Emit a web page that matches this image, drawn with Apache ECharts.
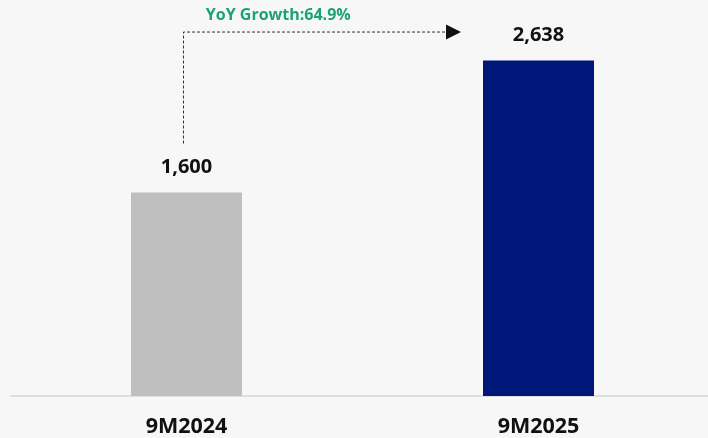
<!DOCTYPE html>
<html>
<head>
<meta charset="utf-8">
<script src="https://cdn.jsdelivr.net/npm/echarts@6/dist/echarts.min.js"></script>
<style>
html,body{margin:0;padding:0;background:#f7f7f7;overflow:hidden;}
#main{width:720px;height:438px;}
</style>
</head>
<body>
<div id="main"></div>
<script>
const categories = ['9M2024', '9M2025'];
const values = [1600, 2638];
const barColors = ['#bfbfbf', '#00177a'];
const growthText = 'YoY Growth:64.9%';

const chart = echarts.init(document.getElementById('main'), null, {renderer: 'canvas'});
const FONT = '"Open Sans", "Noto Sans", sans-serif';

chart.setOption({
  backgroundColor: '#f7f7f7',
  animation: false,
  grid: {left: 10.5, width: 704, top: 14.5, height: 382.5, containLabel: false},
  xAxis: {
    type: 'category',
    data: categories,
    axisLine: {show: true, lineStyle: {color: '#d6d6d6', width: 1.5}},
    axisTick: {show: false},
    axisLabel: {color: '#111', fontSize: 21.5, fontWeight: 'bold', fontFamily: FONT, margin: 20}
  },
  yAxis: {
    type: 'value', min: 0, max: 3000,
    show: false,
    splitLine: {show: false}
  },
  series: [{
    type: 'bar',
    barWidth: 111,
    data: values.map((v, i) => ({value: v, itemStyle: {color: barColors[i]}})),
    label: {
      show: true, position: 'top', distance: 15,
      color: '#111', fontSize: 20, fontWeight: 'bold', fontFamily: FONT,
      formatter: p => p.value.toLocaleString('en-US')
    }
  }]
});

const p0 = chart.convertToPixel({xAxisIndex: 0, yAxisIndex: 0}, [0, values[0]]);
const p1 = chart.convertToPixel({xAxisIndex: 0, yAxisIndex: 0}, [1, values[1]]);
const lx = p0[0] - 3;
const ly0 = p0[1] - 49;
const ly1 = p1[1] - 28.5;
const tipX = p1[0] - 55.5 - 22;

chart.setOption({
  graphic: [
    {
      type: 'polyline',
      shape: {points: [[lx, ly0], [lx, ly1], [tipX - 15, ly1]]},
      style: {stroke: '#333', lineWidth: 1, lineDash: [3, 2], fill: null}
    },
    {
      type: 'polygon',
      shape: {points: [[tipX - 15, ly1 - 7.5], [tipX, ly1], [tipX - 15, ly1 + 7.5]]},
      style: {fill: '#111'}
    },
    {
      type: 'text',
      x: (lx + tipX) / 2 - 44, y: ly1 - 16.5,
      style: {
        text: growthText, fill: '#1aa37a', fontSize: 16, fontWeight: 'bold',
        fontFamily: FONT, align: 'center', verticalAlign: 'middle'
      }
    }
  ]
});
</script>
</body>
</html>
